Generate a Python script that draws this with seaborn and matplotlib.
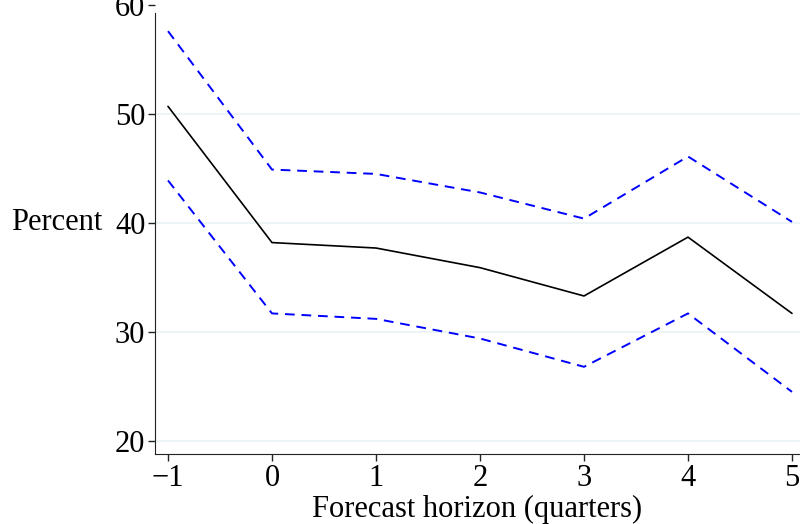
import matplotlib.pyplot as plt
import matplotlib as mpl
import seaborn as sns
import numpy as np
import pandas as pd

horizon = [-1, 0, 1, 2, 3, 4, 5]
estimate = [50.7, 38.2, 37.7, 35.9, 33.3, 38.7, 31.7]
upper_band = [57.6, 44.9, 44.5, 42.8, 40.4, 46.1, 40.1]
lower_band = [43.9, 31.7, 31.2, 29.4, 26.8, 31.7, 24.5]
y_ticks = [20, 30, 40, 50, 60]

sns.set_style('white')
mpl.rcParams['font.family'] = ['Liberation Serif', 'DejaVu Serif']
mpl.rcParams['axes.unicode_minus'] = True

df = pd.DataFrame({'horizon': horizon, 'estimate': estimate,
                   'upper': upper_band, 'lower': lower_band})

fig = plt.figure(figsize=(8, 5.24), dpi=100)
ax = fig.add_axes([155 / 800, 1 - 454 / 524, 645 / 800, (454 - 5) / 524])

for col in ['upper', 'lower']:
    sns.lineplot(data=df, x='horizon', y=col, ax=ax, color='#0000ff',
                 lw=1.4, dashes=False, linestyle=(0, (5, 3.5)))
sns.lineplot(data=df, x='horizon', y='estimate', ax=ax, color='black', lw=1.2)

ax.set_xlim(-1.125, 5.077)
ax.set_ylim(18.8, 60)
ax.set_yticks(y_ticks)
ax.set_xticks(horizon)
ax.set_xticklabels(['\u22121', '0', '1', '2', '3', '4', '5'])

for v in y_ticks[:-1]:
    ax.axhline(v, color='#eaf2f3', lw=1.2, zorder=0)

for s in ['top', 'right']:
    ax.spines[s].set_visible(False)
ax.spines['left'].set_bounds(18.8, 59.3)
ax.spines['left'].set_color('#222222')
ax.spines['bottom'].set_color('#222222')
ax.tick_params(axis='both', direction='out', length=5, width=1, color='#222222',
               labelsize=22, labelcolor='black', pad=2, left=True, bottom=True)

ax.set_xlabel('Forecast horizon (quarters)', fontsize=22, labelpad=1.5, color='black')
ax.set_ylabel('Percent', fontsize=22, rotation=0, ha='right', va='center', color='black')
ax.yaxis.set_label_coords(-0.082, (40 - 18.8) / (60 - 18.8))

fig.savefig('out.png', dpi=100)
